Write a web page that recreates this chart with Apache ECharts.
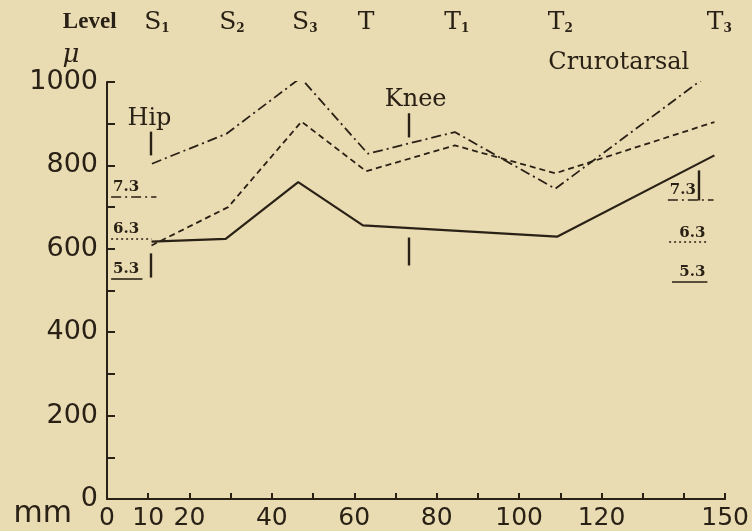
<!DOCTYPE html>
<html>
<head>
<meta charset="utf-8">
<script src="https://cdn.jsdelivr.net/npm/echarts@6/dist/echarts.min.js"></script>
<style>
html,body{margin:0;padding:0;background:#e9dbb2;}
#chart{width:752px;height:531px;}
</style>
</head>
<body>
<div id="chart"></div>
<script>
// fibre size (mu) along the leg, x = mm from hip
var solidMm    = [10.8, 28.8, 46.4, 62.1, 109.2, 147.4];
var solidVal   = [617, 624, 760, 656, 629, 824];
var dashMm     = [10.8, 29.4, 47.2, 62.9, 84.4, 108.8, 147.4];
var dashVal    = [608, 700, 905, 786, 848, 781, 904];
var dotDashMm  = [10.9, 29.0, 47.0, 63.3, 84.4, 108.8, 147.4];
var dotDashVal = [804, 876, 1010, 828, 880, 744, 1028];

var xLabels = [0, 10, 20, 40, 60, 80, 100, 120, 150];
var yLabels = [0, 200, 400, 600, 800, 1000];

var levelNames = ['Level', 'S1', 'S2', 'S3', 'T', 'T1', 'T2', 'T3'];
var levelMm    = [-4.2, 12.1, 30.3, 48.0, 62.9, 84.9, 110.0, 148.6];
var levelVal   = 1143;

var noteText = ['Hip', 'Knee', 'Crurotarsal'];
var noteMm   = [10.3, 74.9, 124.2];
var noteVal  = [912, 958, 1047];

// short vertical marks
var markMm = [10.7, 10.7, 73.3, 73.3, 143.5, 143.5];
var markLo = [824, 531, 867, 560, 1023, 716];
var markHi = [881, 589, 925, 627, 1069, 788];

// key lines 7.3 / 6.3 / 5.3 at both ends
var keyText      = ['7.3', '6.3', '5.3'];
var keyLeftVal   = [726, 625, 529];
var keyLeftFrom  = [1.0, 1.0, 1.0];
var keyLeftTo    = [12.0, 10.8, 8.6];
var keyRightVal  = [718, 616, 522];
var keyRightFrom = [136.1, 136.4, 137.1];
var keyRightTo   = [147.2, 145.7, 145.7];

var ink = '#2a2116';
var serif = 'DejaVu Serif';
var keyDash = [[10, 4, 2, 4], [2, 3], 'solid'];

function pairs(xs, ys){ return xs.map(function(x, i){ return [x, ys[i]]; }); }

var markData = markMm.map(function(m, i){
    return [{coord: [m, markLo[i]]}, {coord: [m, markHi[i]]}];
});
keyText.forEach(function(t, i){
    markData.push([{coord: [keyLeftFrom[i], keyLeftVal[i]],
        lineStyle: {type: keyDash[i], width: 1.6},
        label: {show: true, formatter: t, position: 'insideStartTop', distance: 2}},
        {coord: [keyLeftTo[i], keyLeftVal[i]]}]);
    markData.push([{coord: [keyRightFrom[i], keyRightVal[i]],
        lineStyle: {type: keyDash[i], width: 1.6},
        label: {show: true, formatter: t, position: i === 0 ? 'insideStartTop' : 'insideEndTop', distance: 2}},
        {coord: [keyRightTo[i], keyRightVal[i]]}]);
});

var chart = echarts.init(document.getElementById('chart'));
chart.setOption({
    backgroundColor: '#e9dbb2',
    animation: false,
    grid: {left: 107, right: 18, top: 82, bottom: 32},
    xAxis: {
        type: 'value', min: 0, max: 150, interval: 10,
        name: 'mm', nameLocation: 'start', nameGap: 35,
        nameTextStyle: {color: ink, fontFamily: 'DejaVu Sans', fontSize: 30, verticalAlign: 'top', padding: [0, 0, 0, 0]},
        axisLine: {lineStyle: {color: ink, width: 2}},
        axisTick: {inside: true, length: 6, lineStyle: {color: ink, width: 2}},
        splitLine: {show: false},
        axisLabel: {
            color: ink, fontFamily: 'DejaVu Sans', fontSize: 25, margin: 7,
            formatter: function(v){ return xLabels.indexOf(v) > -1 ? String(v) : ''; }
        }
    },
    yAxis: {
        type: 'value', min: 0, max: 1000, interval: 100,
        name: 'μ', nameLocation: 'end', nameGap: 1,
        nameTextStyle: {color: ink, fontFamily: serif, fontStyle: 'italic', fontSize: 26, padding: [0, 72, 0, 0]},
        axisLine: {lineStyle: {color: ink, width: 2}},
        axisTick: {inside: true, length: 8, lineStyle: {color: ink, width: 2}},
        splitLine: {show: false},
        axisLabel: {
            color: ink, fontFamily: 'DejaVu Sans', fontSize: 27, margin: 9,
            formatter: function(v){ return yLabels.indexOf(v) > -1 ? String(v) : ''; }
        }
    },
    series: [
        {type: 'line', data: pairs(solidMm, solidVal), symbol: 'none',
         lineStyle: {color: ink, width: 2.2},
         markLine: {symbol: ['none', 'none'], silent: true,
            lineStyle: {color: ink, type: 'solid', width: 2.4},
            label: {show: false, color: ink, fontFamily: serif, fontSize: 15, fontWeight: 'bold'},
            data: markData}},
        {type: 'line', data: pairs(dashMm, dashVal), symbol: 'none',
         lineStyle: {color: ink, width: 1.8, type: [6, 4]}},
        {type: 'line', data: pairs(dotDashMm, dotDashVal), symbol: 'none',
         lineStyle: {color: ink, width: 1.8, type: [10, 4, 2, 4]}},
        {type: 'scatter', clip: false, silent: true, symbolSize: 0,
         itemStyle: {opacity: 1, color: ink},
         data: levelMm.map(function(m, i){ return {value: [m, levelVal], name: levelNames[i]}; }),
         label: {show: true, position: 'inside', textBorderWidth: 0,
            formatter: function(p){
                var n = p.name;
                if(n === 'Level') return '{l|Level}';
                return '{b|' + n[0] + '}' + (n.length > 1 ? '{s|' + n.slice(1) + '}' : '');
            },
            rich: {
                l: {color: ink, fontFamily: 'Liberation Serif', fontSize: 23, fontWeight: 'bold', textBorderWidth: 0},
                b: {color: ink, fontFamily: serif, fontSize: 25, textBorderWidth: 0},
                s: {color: ink, fontFamily: serif, fontSize: 12, fontWeight: 'bold', padding: [14, 0, 0, 0], textBorderWidth: 0}
            }}},
        {type: 'scatter', clip: false, silent: true, symbolSize: 0,
         itemStyle: {opacity: 1, color: ink},
         data: noteMm.map(function(m, i){ return {value: [m, noteVal[i]], name: noteText[i]}; }),
         label: {show: true, position: 'inside', formatter: '{b}', textBorderWidth: 0,
            color: ink, fontFamily: serif, fontSize: 24}}
    ]
});
</script>
</body>
</html>
